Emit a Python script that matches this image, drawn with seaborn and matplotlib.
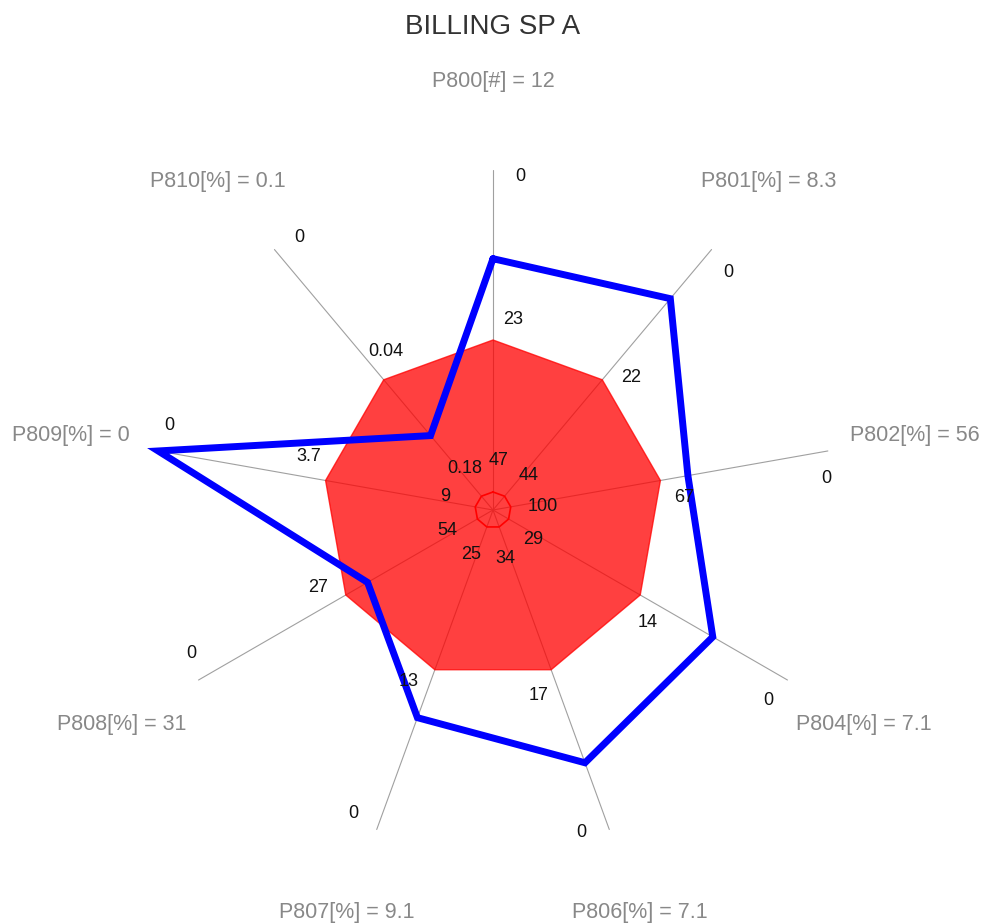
import numpy as np
import matplotlib
matplotlib.use("Agg")
import matplotlib.pyplot as plt
import seaborn as sns

# ---- data ----
axis_names = ["P800[#]", "P801[%]", "P802[%]", "P804[%]", "P806[%]",
              "P807[%]", "P808[%]", "P809[%]", "P810[%]"]
values = [12, 8.3, 56, 7.1, 7.1, 9.1, 31, 0, 0.1]
center_ticks = [47, 44, 100, 29, 34, 25, 54, 9, 0.18]
mid_ticks = [23, 22, 67, 14, 17, 13, 27, 3.7, 0.04]
outer_ticks = [0, 0, 0, 0, 0, 0, 0, 0, 0]
title = "BILLING SP A"

sns.set_theme(style="white")
plt.rcParams["font.family"] = ["Liberation Sans", "DejaVu Sans"]

n = len(axis_names)
theta = np.deg2rad(90 - 360.0 / n * np.arange(n))
u = np.stack([np.cos(theta), np.sin(theta)], axis=1)
p = np.stack([np.sin(theta), -np.cos(theta)], axis=1)


def radius(i, v):
    # reversed per-axis scale: outer tick at r=1, mid tick at r=0.5, centre tick at r=0
    return np.interp(v, [outer_ticks[i], mid_ticks[i], center_ticks[i]], [1.0, 0.5, 0.0])


fig = plt.figure(figsize=(9.85, 9.24), dpi=100)
ax = fig.add_axes([0, 0, 1, 1])
ax.set_xlim(-493 / 340, (985 - 493) / 340)
ax.set_ylim(-(924 - 510) / 340, 510 / 340)
ax.axis("off")

# spokes
for i in range(n):
    ax.plot([0, u[i, 0]], [0, u[i, 1]], color="#a0a0a0", lw=0.8, zorder=1)

# red reference area (mid ticks)
r_mid = np.array([radius(i, mid_ticks[i]) for i in range(n)])
ax.fill(r_mid * u[:, 0], r_mid * u[:, 1], color="red", alpha=0.75, lw=1.0,
        ec="red", zorder=2)

# small inner ring
r_in = 0.053
ax.plot(np.append(r_in * u[:, 0], r_in * u[0, 0]),
        np.append(r_in * u[:, 1], r_in * u[0, 1]), color="red", lw=1.2, zorder=3)

# blue value line
r_val = np.array([radius(i, values[i]) for i in range(n)])
xs = np.append(r_val * u[:, 0], r_val[0] * u[0, 0])
ys = np.append(r_val * u[:, 1], r_val[0] * u[0, 1])
sns.lineplot(x=xs, y=ys, sort=False, estimator=None, color="#0000ff", lw=5.0,
             ax=ax, zorder=4)
ax.lines[-1].set_solid_joinstyle("miter")

# tick labels on each spoke
for i in range(n):
    c = 0.145 * u[i] + 0.015 * p[i]
    ax.text(c[0], c[1], f"{center_ticks[i]:g}", ha="center", va="center",
            fontsize=13, color="#111111", zorder=5)
    m = (0.5 + 0.06) * u[i] + 0.06 * p[i]
    ax.text(m[0], m[1], f"{mid_ticks[i]:g}", ha="center", va="center",
            fontsize=13, color="#111111", zorder=5)
    o = (1.0 - 0.02) * u[i] + 0.08 * p[i]
    ax.text(o[0], o[1], f"{outer_ticks[i]:g}", ha="center", va="center",
            fontsize=13, color="#111111", zorder=5)
    lab = 1.26 * u[i]
    ax.text(lab[0], lab[1], f"{axis_names[i]} = {values[i]:g}", ha="center",
            va="center", fontsize=15.5, color="#888888", zorder=5)

ax.text(0, 1.42, title, ha="center", va="center", fontsize=20, color="#333333")

fig.savefig("out.png", dpi=100)
